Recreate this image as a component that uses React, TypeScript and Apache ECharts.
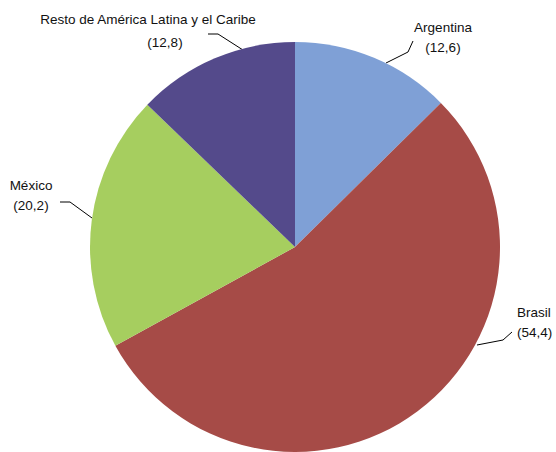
import React, { useEffect, useRef } from "react";
import * as echarts from "echarts";

const categories = ["Argentina", "Brasil", "México", "Resto de América Latina y el Caribe"];
const values = [12.6, 54.4, 20.2, 12.8];
const colors = ["#7FA0D6", "#A64B47", "#A6CE5F", "#544A8B"];

// label anchor placements and leader-line routes per slice (layout only)
const labelPlaces = [
  { x: 443, y: 17, align: "center", lh: 20, line: [[386, 63], [408, 52], [413, 41]] },
  { x: 517, y: 302, align: "left", lh: 20, line: [[477, 345], [503, 340], [512, 332]] },
  { x: 31, y: 175, align: "center", lh: 20, line: [[92, 218], [70, 202], [60, 202]] },
  { x: 148, y: 8, align: "center", lh: 23, line: [[243, 50], [218, 34], [208, 34]] },
];

export default function App() {
  const ref = useRef<HTMLDivElement>(null);
  useEffect(() => {
    document.body.style.margin = "0";
    const chart = echarts.init(ref.current!, null, { renderer: "svg" });
    const font = "Liberation Sans, Arial, sans-serif";
    chart.setOption({
      animation: false,
      backgroundColor: "#ffffff",
      series: [
        {
          type: "pie",
          center: [295, 247],
          radius: 205,
          startAngle: 90,
          clockwise: true,
          data: categories.map((name, i) => {
            const lh = labelPlaces[i].lh;
            const shift = i === 3 ? 34 : 0;
            return {
              name,
              value: values[i],
              itemStyle: { color: colors[i] },
              label: {
                rich: {
                  n: { fontFamily: font, fontSize: 13.5, color: "#111", lineHeight: lh },
                  v: { fontFamily: font, fontSize: 13.5, color: "#111", lineHeight: lh, padding: [0, 0, 0, shift] },
                },
              },
            };
          }),
          label: {
            show: true,
            position: "outside",
            overflow: "none",
            formatter: (p: any) =>
              `{n|${p.name}}\n{v|(${String(p.value).replace(".", ",")})}`,
          },
          labelLine: {
            show: true,
            length: 12,
            length2: 10,
            lineStyle: { color: "#000", width: 1 },
          },
          labelLayout: (params: any) => {
            const p = labelPlaces[params.dataIndex];
            return {
              x: p.x,
              y: p.y,
              align: p.align,
              verticalAlign: "top",
              labelLinePoints: p.line,
            };
          },
        },
      ],
    });
    return () => chart.dispose();
  }, []);
  return <div ref={ref} style={{ width: 556, height: 452 }} />;
}
